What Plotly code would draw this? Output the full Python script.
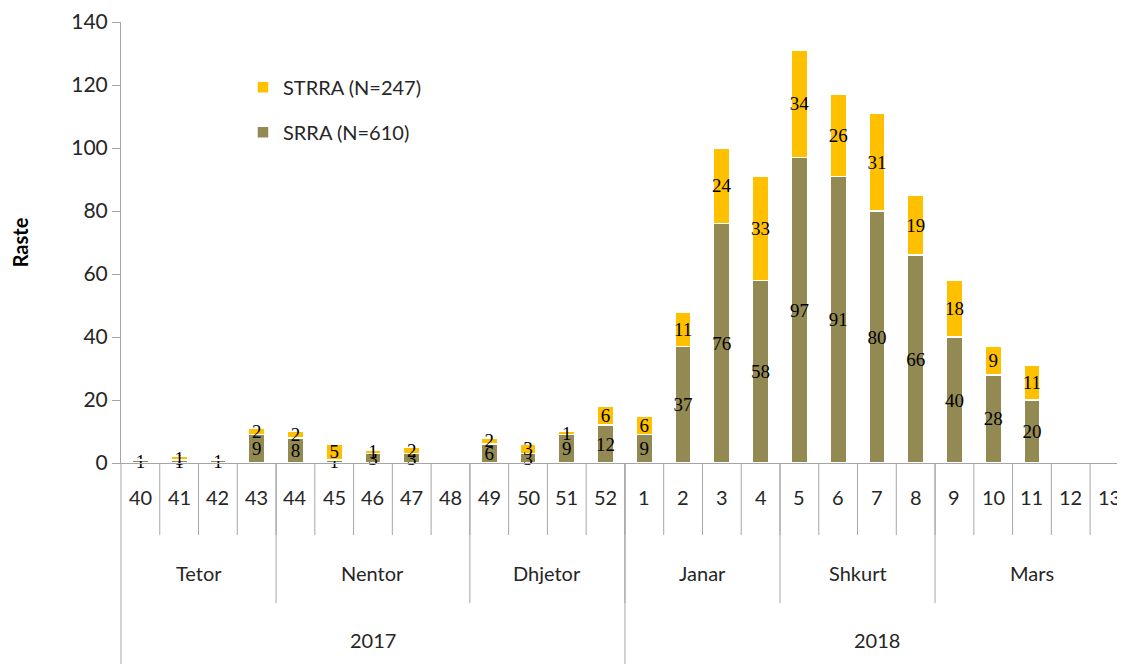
import plotly.graph_objects as go

weeks = ["40", "41", "42", "43", "44", "45", "46", "47", "48", "49", "50", "51", "52",
         "1", "2", "3", "4", "5", "6", "7", "8", "9", "10", "11", "12", "13"]
srra = [1, 1, 1, 9, 8, 1, 3, 3, 0, 6, 3, 9, 12, 9, 37, 76, 58, 97, 91, 80, 66, 40, 28, 20, 0, 0]
strra = [0, 1, 0, 2, 2, 5, 1, 2, 0, 2, 3, 1, 6, 6, 11, 24, 33, 34, 26, 31, 19, 18, 9, 11, 0, 0]
months = ["Tetor", "Nentor", "Dhjetor", "Janar", "Shkurt", "Mars"]
month_len = [4, 5, 4, 4, 4, 5]
years = ["2017", "2018"]
year_len = [13, 13]

OLIVE = "#938953"
GOLD = "#FFC000"
GRID = "#A6A6A6"
TXT = "#262626"

x = list(range(len(weeks)))
lbl = lambda v: [str(n) if n else "" for n in v]

fig = go.Figure()
fig.add_trace(go.Bar(
    x=x, y=srra, name="SRRA (N=610)", marker=dict(color=OLIVE, line=dict(color="white", width=1.5)),
    text=lbl(srra), textposition="inside", insidetextanchor="middle", constraintext="none",
    textangle=0, textfont=dict(family="Liberation Serif", size=19, color="black"),
    legendgroup="a", legendrank=2, width=0.42, cliponaxis=False,
))
fig.add_trace(go.Bar(
    x=x, y=strra, name="STRRA (N=247)", marker=dict(color=GOLD, line=dict(color="white", width=1.5)),
    text=lbl(strra), textposition="inside", insidetextanchor="middle", constraintext="none",
    textangle=0, textfont=dict(family="Liberation Serif", size=19, color="black"),
    legendgroup="b", legendrank=1, width=0.42, cliponaxis=False,
))

# plot area is 441px tall; rows below it are placed in px below the axis
ph = 441.0
def py(px):
    return -px / ph

shapes = []
anns = []
# week row
for i in range(len(weeks)):
    shapes.append(dict(type="line", xref="x", yref="paper", x0=i + 0.5, x1=i + 0.5,
                       y0=0, y1=py(72), line=dict(color=GRID, width=1)))
    anns.append(dict(x=i, y=py(34), xref="x", yref="paper", text=weeks[i], showarrow=False,
                     font=dict(size=20, color=TXT), yanchor="middle"))
# month row
start = 0
for m, n in zip(months, month_len):
    anns.append(dict(x=start + (n - 1) / 2, y=py(110), xref="x", yref="paper", text=m,
                     showarrow=False, font=dict(size=20, color=TXT), yanchor="middle"))
    start += n
    shapes.append(dict(type="line", xref="x", yref="paper", x0=start - 0.5, x1=start - 0.5,
                       y0=0, y1=py(140), line=dict(color=GRID, width=1)))
# year row
start = 0
shapes.append(dict(type="line", xref="paper", yref="paper", x0=0, x1=0,
                   y0=0, y1=py(201), line=dict(color=GRID, width=1)))
for yv, n in zip(years, year_len):
    anns.append(dict(x=start + (n - 1) / 2, y=py(177), xref="x", yref="paper", text=yv,
                     showarrow=False, font=dict(size=20, color=TXT), yanchor="middle"))
    start += n
    shapes.append(dict(type="line", xref="x", yref="paper", x0=start - 0.5, x1=start - 0.5,
                       y0=0, y1=py(201), line=dict(color=GRID, width=1)))

# the page body adds an 8px offset, so the figure is trimmed to fit the window
fig.update_layout(
    barmode="stack",
    width=1117, height=656,
    margin=dict(l=113, r=0, t=14, b=201, autoexpand=False),
    paper_bgcolor="white", plot_bgcolor="white",
    font=dict(family="Lato", color=TXT),
    shapes=shapes, annotations=anns,
    showlegend=True,
    legend=dict(x=0.1215, y=0.896, xanchor="left", yanchor="top", traceorder="grouped",
                tracegroupgap=16, font=dict(size=20, color=TXT), bgcolor="rgba(0,0,0,0)"),
)
fig.update_xaxes(range=[-0.5, 25.4], showticklabels=False, ticks="", showgrid=False,
                 showline=True, linecolor=GRID, linewidth=1, zeroline=False, automargin=False)
fig.update_yaxes(range=[0, 140], dtick=20, ticks="outside", ticklen=8, tickcolor=GRID,
                 showline=True, linecolor=GRID, linewidth=1, showgrid=False, zeroline=False,
                 tickfont=dict(size=21, color=TXT), automargin=False,
                 title=dict(text="<b>Raste</b>", font=dict(size=20, color="black"), standoff=37))

fig.write_html("out.html")
